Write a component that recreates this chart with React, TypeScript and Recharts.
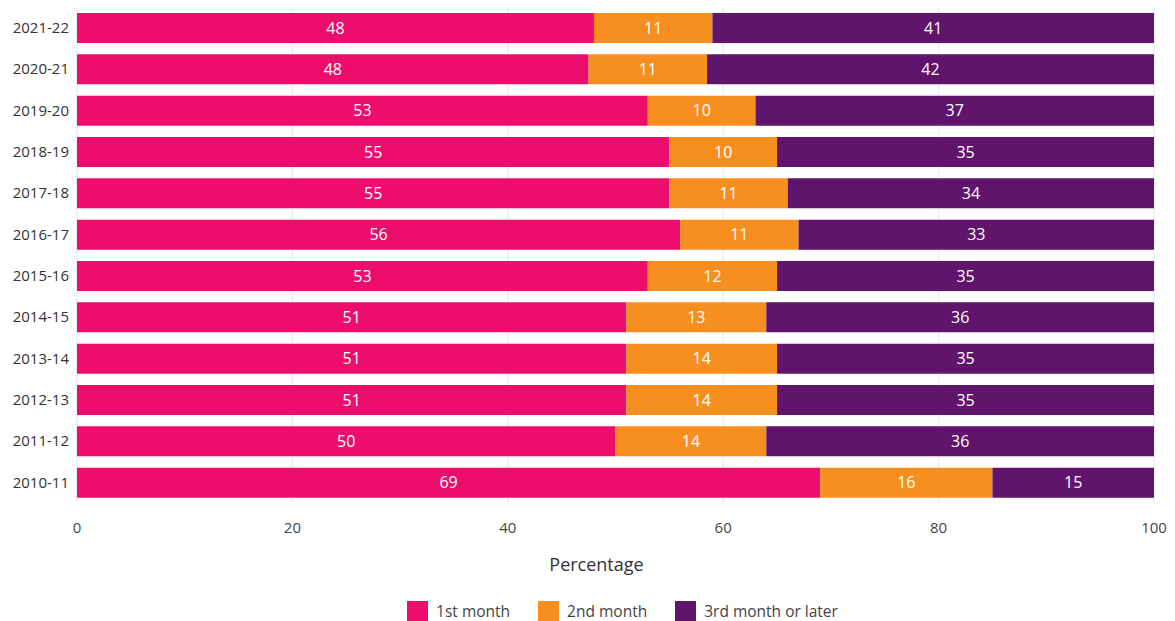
import { Bar, BarChart, CartesianGrid, Label, LabelList, Legend, XAxis, YAxis } from "recharts";

const years = [
  "2021-22",
  "2020-21",
  "2019-20",
  "2018-19",
  "2017-18",
  "2016-17",
  "2015-16",
  "2014-15",
  "2013-14",
  "2012-13",
  "2011-12",
  "2010-11",
];
const firstMonth = [48, 47.5, 53, 55, 55, 56, 53, 51, 51, 51, 50, 69];
const secondMonth = [11, 11, 10, 10, 11, 11, 12, 13, 14, 14, 14, 16];
const thirdOrLater = [41, 41.5, 37, 35, 34, 33, 35, 36, 35, 35, 36, 15];
const xTicks = [0, 20, 40, 60, 80, 100];

const series = [
  { key: "first", name: "1st month", color: "#ec0d6d" },
  { key: "second", name: "2nd month", color: "#f68f1f" },
  { key: "third", name: "3rd month or later", color: "#61146b" },
];

const data = years.map((year, i) => ({
  year,
  first: firstMonth[i],
  second: secondMonth[i],
  third: thirdOrLater[i],
}));

const FONT = "'Open Sans', sans-serif";

function LegendContent() {
  return (
    <div
      style={{
        height: 30,
        paddingTop: 10,
        boxSizing: "border-box",
        display: "flex",
        justifyContent: "center",
        alignItems: "center",
        gap: 28,
        paddingLeft: 91,
        fontFamily: FONT,
        fontSize: 15.5,
        color: "#444",
      }}
    >
      {series.map((s) => (
        <div key={s.key} style={{ display: "flex", alignItems: "center", gap: 8, height: 20 }}>
          <span style={{ width: 21, height: 20, background: s.color, display: "inline-block" }} />
          <span>{s.name}</span>
        </div>
      ))}
    </div>
  );
}

export default function App() {
  return (
    <div style={{ position: "absolute", left: 0, top: 0, background: "#fff" }}>
      <BarChart
        width={1175}
        height={621}
        data={data}
        layout="vertical"
        margin={{ top: 7, right: 21, left: 0, bottom: 0 }}
        barSize={30}
      >
        <CartesianGrid horizontal={false} stroke="#e8eef1" strokeWidth={1.5} />
        <XAxis
          type="number"
          domain={[0, 100]}
          ticks={xTicks}
          axisLine={false}
          tickLine={false}
          tickMargin={13}
          height={88}
          tick={{ fill: "#444", fontSize: 15, fontFamily: FONT }}
        >
          <Label
            value="Percentage"
            position="insideBottom"
            offset={20}
            dx={-19}
            style={{ fill: "#333", fontSize: 18, fontFamily: FONT }}
          />
        </XAxis>
        <YAxis
          type="category"
          dataKey="year"
          width={77}
          axisLine={false}
          tickLine={false}
          tick={{ fill: "#333", fontSize: 15, fontFamily: FONT }}
        />
        <Legend verticalAlign="bottom" content={<LegendContent />} />
        {series.map((s) => (
          <Bar key={s.key} dataKey={s.key} name={s.name} stackId="a" fill={s.color} isAnimationActive={false}>
            <LabelList
              dataKey={s.key}
              position="center"
              formatter={(v: number) => Math.round(v)}
              style={{ fill: "#fff", fontSize: 16, fontFamily: FONT }}
            />
          </Bar>
        ))}
      </BarChart>
    </div>
  );
}
